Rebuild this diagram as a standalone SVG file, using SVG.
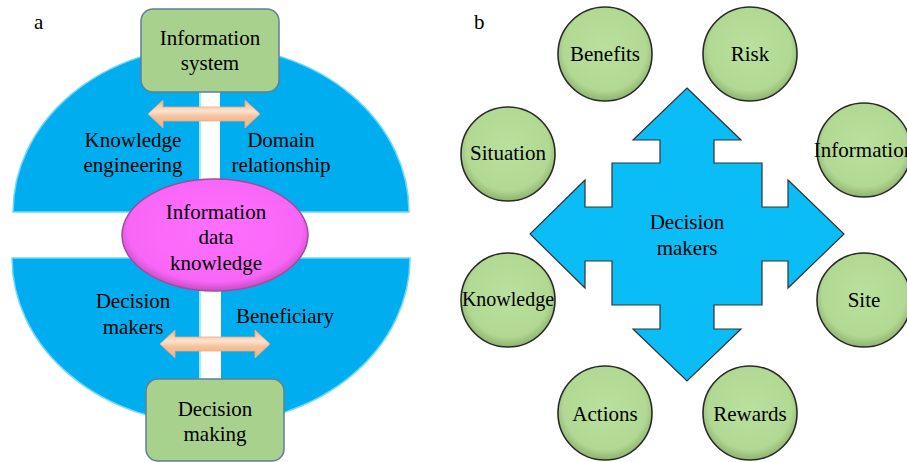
<svg xmlns="http://www.w3.org/2000/svg" width="907" height="462" viewBox="0 0 907 462" font-family="'Liberation Serif', 'DejaVu Serif', serif">
<defs>
<style>
text{font-family:'Liberation Serif','DejaVu Serif',serif;fill:#000;text-anchor:middle}
.lbl{font-size:21px}
.pl{font-size:21px;text-anchor:start}
.half{fill:#00aeef;stroke:#6fd8f7;stroke-width:1.5}
.box{fill:#a9d18e;stroke:#5f7f98;stroke-width:1.5}
.circ{fill:url(#cg);stroke:#2a2a2a;stroke-width:1.6}
.dbl{fill:url(#pg);stroke:#f0a878;stroke-width:0.8}
</style>
<radialGradient id="cg" cx="0.5" cy="0.45" r="0.55">
<stop offset="0" stop-color="#b9e09c"/>
<stop offset="0.8" stop-color="#b2d994"/>
<stop offset="1" stop-color="#8fb270"/>
</radialGradient>
<linearGradient id="pg" x1="0" y1="0" x2="0" y2="1">
<stop offset="0" stop-color="#f4b183"/>
<stop offset="0.4" stop-color="#fde3cf"/>
<stop offset="0.6" stop-color="#f6c09a"/>
<stop offset="1" stop-color="#f4b183"/>
</linearGradient>
<radialGradient id="mg" cx="0.5" cy="0.45" r="0.55">
<stop offset="0" stop-color="#ff70ff"/>
<stop offset="0.85" stop-color="#f866f6"/>
<stop offset="1" stop-color="#c84cc6"/>
</radialGradient>
</defs>
<rect width="907" height="462" fill="#fff"/>

<g id="panel-a-background">
<path class="half" d="M13 212 A198 166 0 0 1 409 212 Z"/>
<path class="half" d="M12 258 A199 166 0 0 0 410 258 Z"/>
<rect x="199" y="60" width="21" height="153" fill="#fff"/>
<rect x="199" y="257" width="22" height="130" fill="#fff"/>
<line x1="200" y1="60" x2="200" y2="212" stroke="#8ee6ff" stroke-width="1.5"/>
<line x1="200" y1="258" x2="200" y2="387" stroke="#8ee6ff" stroke-width="1.5"/>
</g>

<text class="pl" x="34" y="29" font-family="'Liberation Serif', serif">a</text>
<text class="pl" x="474" y="29" font-family="'Liberation Serif', serif">b</text>

<g id="connectors">
<path class="dbl" d="M148 114 L163 100 L163 107 L245 107 L245 100 L260 114 L245 128 L245 121 L163 121 L163 128 Z"/>
<path class="dbl" d="M160 344 L175 330 L175 337 L255 337 L255 330 L270 344 L255 358 L255 351 L175 351 L175 358 Z"/>
</g>

<g id="information-system" font-family="'Liberation Serif', serif">
<rect class="box" x="141" y="9" width="138" height="83" rx="12"/>
<text class="lbl" x="210" y="45">Information</text>
<text class="lbl" x="210" y="70">system</text>
</g>

<g id="knowledge-engineering" font-family="'Liberation Serif', serif">
<text class="lbl" x="133" y="147">Knowledge</text>
<text class="lbl" x="133" y="172">engineering</text>
</g>
<g id="domain-relationship" font-family="'Liberation Serif', serif">
<text class="lbl" x="281" y="147">Domain</text>
<text class="lbl" x="281" y="172">relationship</text>
</g>

<g id="information-data-knowledge" font-family="'Liberation Serif', serif">
<ellipse cx="215" cy="235" rx="93" ry="56" fill="url(#mg)" stroke="#a04aa0" stroke-width="1.5"/>
<text class="lbl" x="216" y="219">Information</text>
<text class="lbl" x="216" y="244">data</text>
<text class="lbl" x="216" y="270">knowledge</text>
</g>

<g id="decision-makers-a" font-family="'Liberation Serif', serif">
<text class="lbl" x="133" y="308">Decision</text>
<text class="lbl" x="133" y="334">makers</text>
</g>
<g id="beneficiary" font-family="'Liberation Serif', serif">
<text class="lbl" x="285" y="323">Beneficiary</text>
</g>

<g id="decision-making" font-family="'Liberation Serif', serif">
<rect class="box" x="146" y="379" width="138" height="82" rx="12"/>
<text class="lbl" x="215" y="416">Decision</text>
<text class="lbl" x="215" y="441">making</text>
</g>

<g id="decision-makers-b" font-family="'Liberation Serif', serif">
<path d="M687 88 L741 140 L714 140 L714 163 L762 163 L762 207 L788 207 L788 180 L844 234 L788 288 L788 261 L762 261 L762 305 L714 305 L714 329 L741 329 L687 381 L633 329 L660 329 L660 305 L612 305 L612 261 L585 261 L585 288 L530 234 L585 180 L585 207 L612 207 L612 163 L660 163 L660 140 L633 140 Z" fill="#0bbdf6" stroke="#333" stroke-width="1.2" stroke-linejoin="miter"/>
<text class="lbl" x="687" y="229">Decision</text>
<text class="lbl" x="687" y="255">makers</text>
</g>

<g id="benefits" font-family="'Liberation Serif', serif"><circle class="circ" cx="605" cy="54" r="47"/><text class="lbl" x="605" y="61">Benefits</text></g>
<g id="risk" font-family="'Liberation Serif', serif"><circle class="circ" cx="750" cy="54" r="47"/><text class="lbl" x="750" y="61">Risk</text></g>
<g id="situation" font-family="'Liberation Serif', serif"><circle class="circ" cx="508" cy="154" r="47"/><text class="lbl" x="508" y="160">Situation</text></g>
<g id="information" font-family="'Liberation Serif', serif"><circle class="circ" cx="864" cy="150" r="47"/><text class="lbl" x="864" y="157">Information</text></g>
<g id="knowledge" font-family="'Liberation Serif', serif"><circle class="circ" cx="508" cy="300" r="47"/><text class="lbl" x="508" y="306" style="font-size:20px">Knowledge</text></g>
<g id="site" font-family="'Liberation Serif', serif"><circle class="circ" cx="864" cy="300" r="47"/><text class="lbl" x="864" y="307">Site</text></g>
<g id="actions" font-family="'Liberation Serif', serif"><circle class="circ" cx="605" cy="413" r="47"/><text class="lbl" x="605" y="421">Actions</text></g>
<g id="rewards" font-family="'Liberation Serif', serif"><circle class="circ" cx="750" cy="413" r="47"/><text class="lbl" x="750" y="421">Rewards</text></g>
</svg>
